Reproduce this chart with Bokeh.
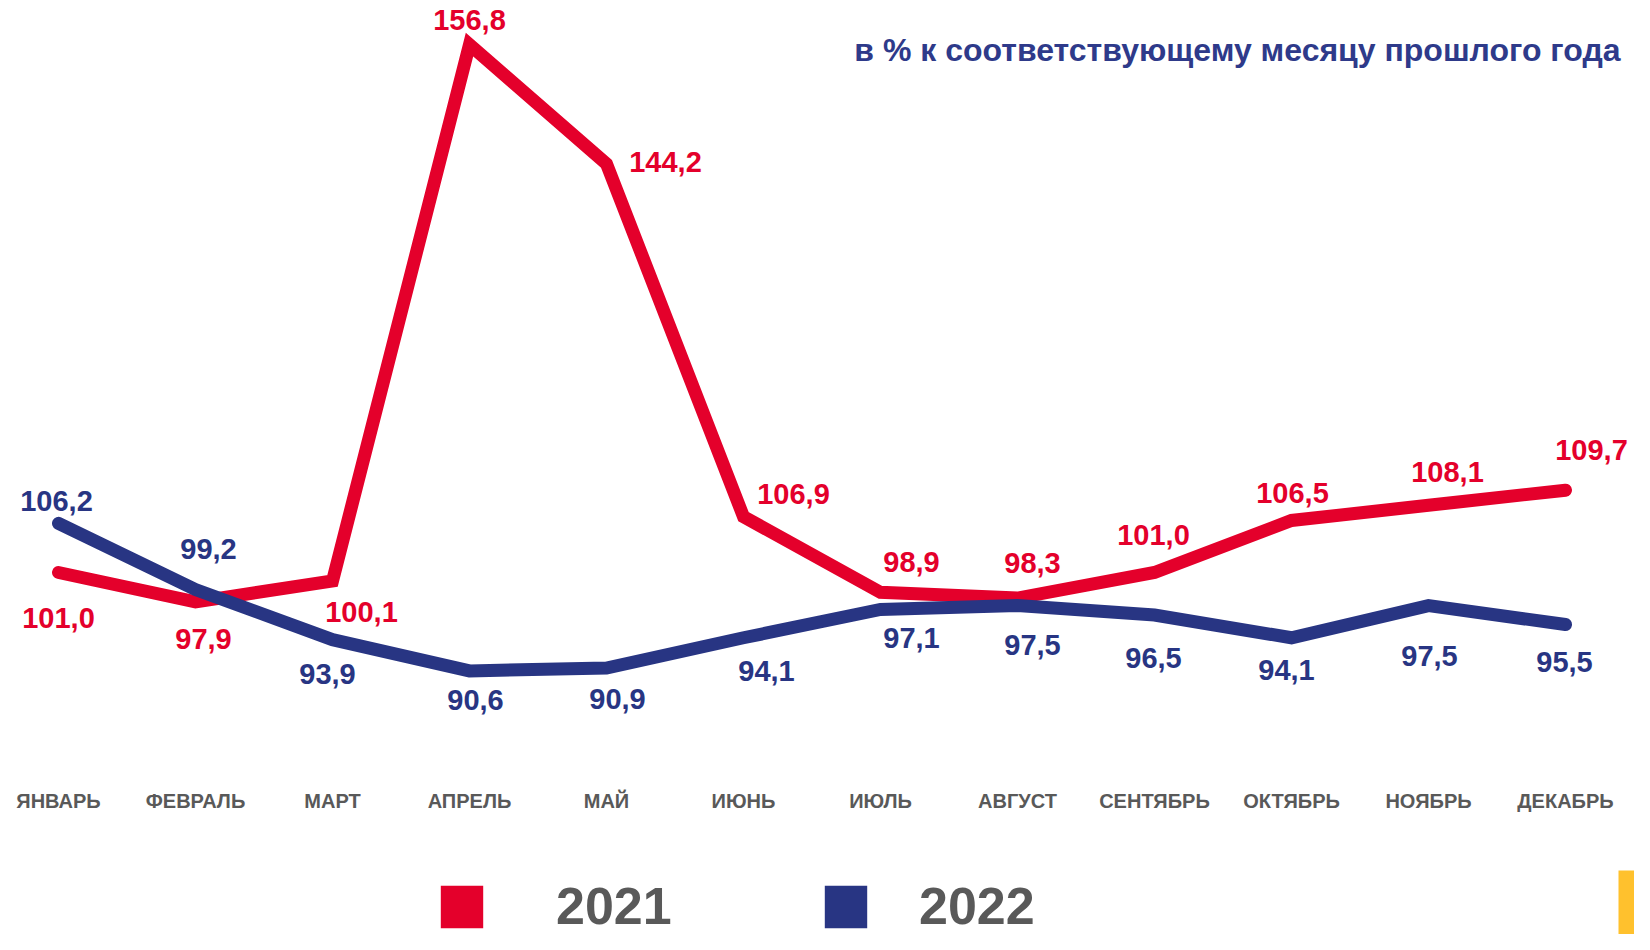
from bokeh.plotting import figure
from bokeh.models import Range1d, Legend, LegendItem, BoxAnnotation, ColumnDataSource
from bokeh.core.properties import value
from bokeh.embed import file_html
from bokeh.resources import INLINE

# ---------------- data ----------------
months = ["ЯНВАРЬ", "ФЕВРАЛЬ", "МАРТ", "АПРЕЛЬ", "МАЙ", "ИЮНЬ",
          "ИЮЛЬ", "АВГУСТ", "СЕНТЯБРЬ", "ОКТЯБРЬ", "НОЯБРЬ", "ДЕКАБРЬ"]
values_2021 = [101.0, 97.9, 100.1, 156.8, 144.2, 106.9, 98.9, 98.3, 101.0, 106.5, 108.1, 109.7]
values_2022 = [106.2, 99.2, 93.9, 90.6, 90.9, 94.1, 97.1, 97.5, 96.5, 94.1, 97.5, 95.5]
series_names = ["2021", "2022"]
title_text = "в % к соответствующему месяцу прошлого года"

# label offsets in screen pixels (style)
dx_2021 = [0, 8, 29, 0, 59, 50, 31, 15, -1, 1, 19, 26]
dy_2021 = [45, 37, 31, -25, -2, -23, -30, -35, -38, -27, -33, -40]
dx_2022 = [-2, 13, -5, 6, 11, 23, 31, 15, -1, -5, 1, -1]
dy_2022 = [-22, -41, 34, 29, 31, 33, 29, 39, 43, 32, 50, 37]

RED = "#E4002B"
BLUE = "#283583"
TITLE_BLUE = "#2E3A8A"
GREY = "#595959"
YELLOW = "#FFC12D"
FONT = "Liberation Sans"

# ---------------- layout ----------------
W, H = 1634, 934
PX_MONTH = 137.0
X0 = 58.0
PX_UNIT = 9.46
Y_REF, Y_REF_PX = 101.0, 572.0

x_range = Range1d(-X0 / PX_MONTH, (W - X0) / PX_MONTH)
y_range = Range1d(Y_REF - (H - Y_REF_PX) / PX_UNIT, Y_REF + Y_REF_PX / PX_UNIT)


def px_to_x(px):
    return x_range.start + px / PX_MONTH


def px_to_y(py):
    return y_range.end - py / PX_UNIT


p = figure(width=W, height=H, x_range=x_range, y_range=y_range,
           output_backend="svg", toolbar_location=None,
           x_axis_type=None, y_axis_type=None, min_border=0,
           outline_line_color=None, background_fill_color="white",
           border_fill_color="white")
p.grid.visible = False

idx = list(range(len(months)))


def fmt(v):
    return f"{v:.1f}".replace(".", ",")


src21 = ColumnDataSource(dict(x=idx, y=values_2021, t=[fmt(v) for v in values_2021],
                              dx=dx_2021, dy=dy_2021))
src22 = ColumnDataSource(dict(x=idx, y=values_2022, t=[fmt(v) for v in values_2022],
                              dx=dx_2022, dy=dy_2022))

p.line("x", "y", source=src21, line_color=RED, line_width=13,
       line_cap="round", line_join="miter")
p.line("x", "y", source=src22, line_color=BLUE, line_width=13,
       line_cap="round", line_join="miter")

for src, col in ((src21, RED), (src22, BLUE)):
    p.text("x", "y", text="t", source=src, x_offset="dx", y_offset="dy",
           text_align="center", text_baseline="middle",
           text_font=value(FONT), text_font_style="bold",
           text_font_size="29px", text_color=col)

# month labels
p.text(x=idx, y=[px_to_y(800)] * len(idx), text=months,
       text_align="center", text_baseline="middle",
       text_font=value(FONT), text_font_style="bold",
       text_font_size="20px", text_color=GREY)

# title
p.text(x=[px_to_x(1620)], y=[px_to_y(49)], text=[title_text],
       text_align="right", text_baseline="middle",
       text_font=value(FONT), text_font_style="bold",
       text_font_size="32px", text_color=TITLE_BLUE)

# yellow corner block
p.add_layout(BoxAnnotation(left=px_to_x(1618), top=px_to_y(870),
                           fill_color=YELLOW, fill_alpha=1.0, line_color=None,
                           level="overlay"))

# legend (swatch renderers carry no visible geometry)
nan = float("nan")
legend_cfg = dict(orientation="horizontal", glyph_width=53, glyph_height=53,
                  padding=0, margin=0, border_line_color=None,
                  background_fill_alpha=0.0,
                  label_text_font=FONT, label_text_font_style="bold",
                  label_text_font_size="52px", label_text_color=GREY)
for name, col, loc_x, standoff in ((series_names[0], RED, 435, 68),
                                   (series_names[1], BLUE, 819, 47)):
    r = p.quad(source=ColumnDataSource(dict(left=[nan], right=[nan], top=[nan], bottom=[nan])),
               left="left", right="right", top="top", bottom="bottom",
               fill_color=col, line_color=None)
    p.add_layout(Legend(items=[LegendItem(label=name, renderers=[r])],
                        location=(loc_x, -2), label_standoff=standoff, **legend_cfg))

open("out.html", "w").write(file_html(p, INLINE))
